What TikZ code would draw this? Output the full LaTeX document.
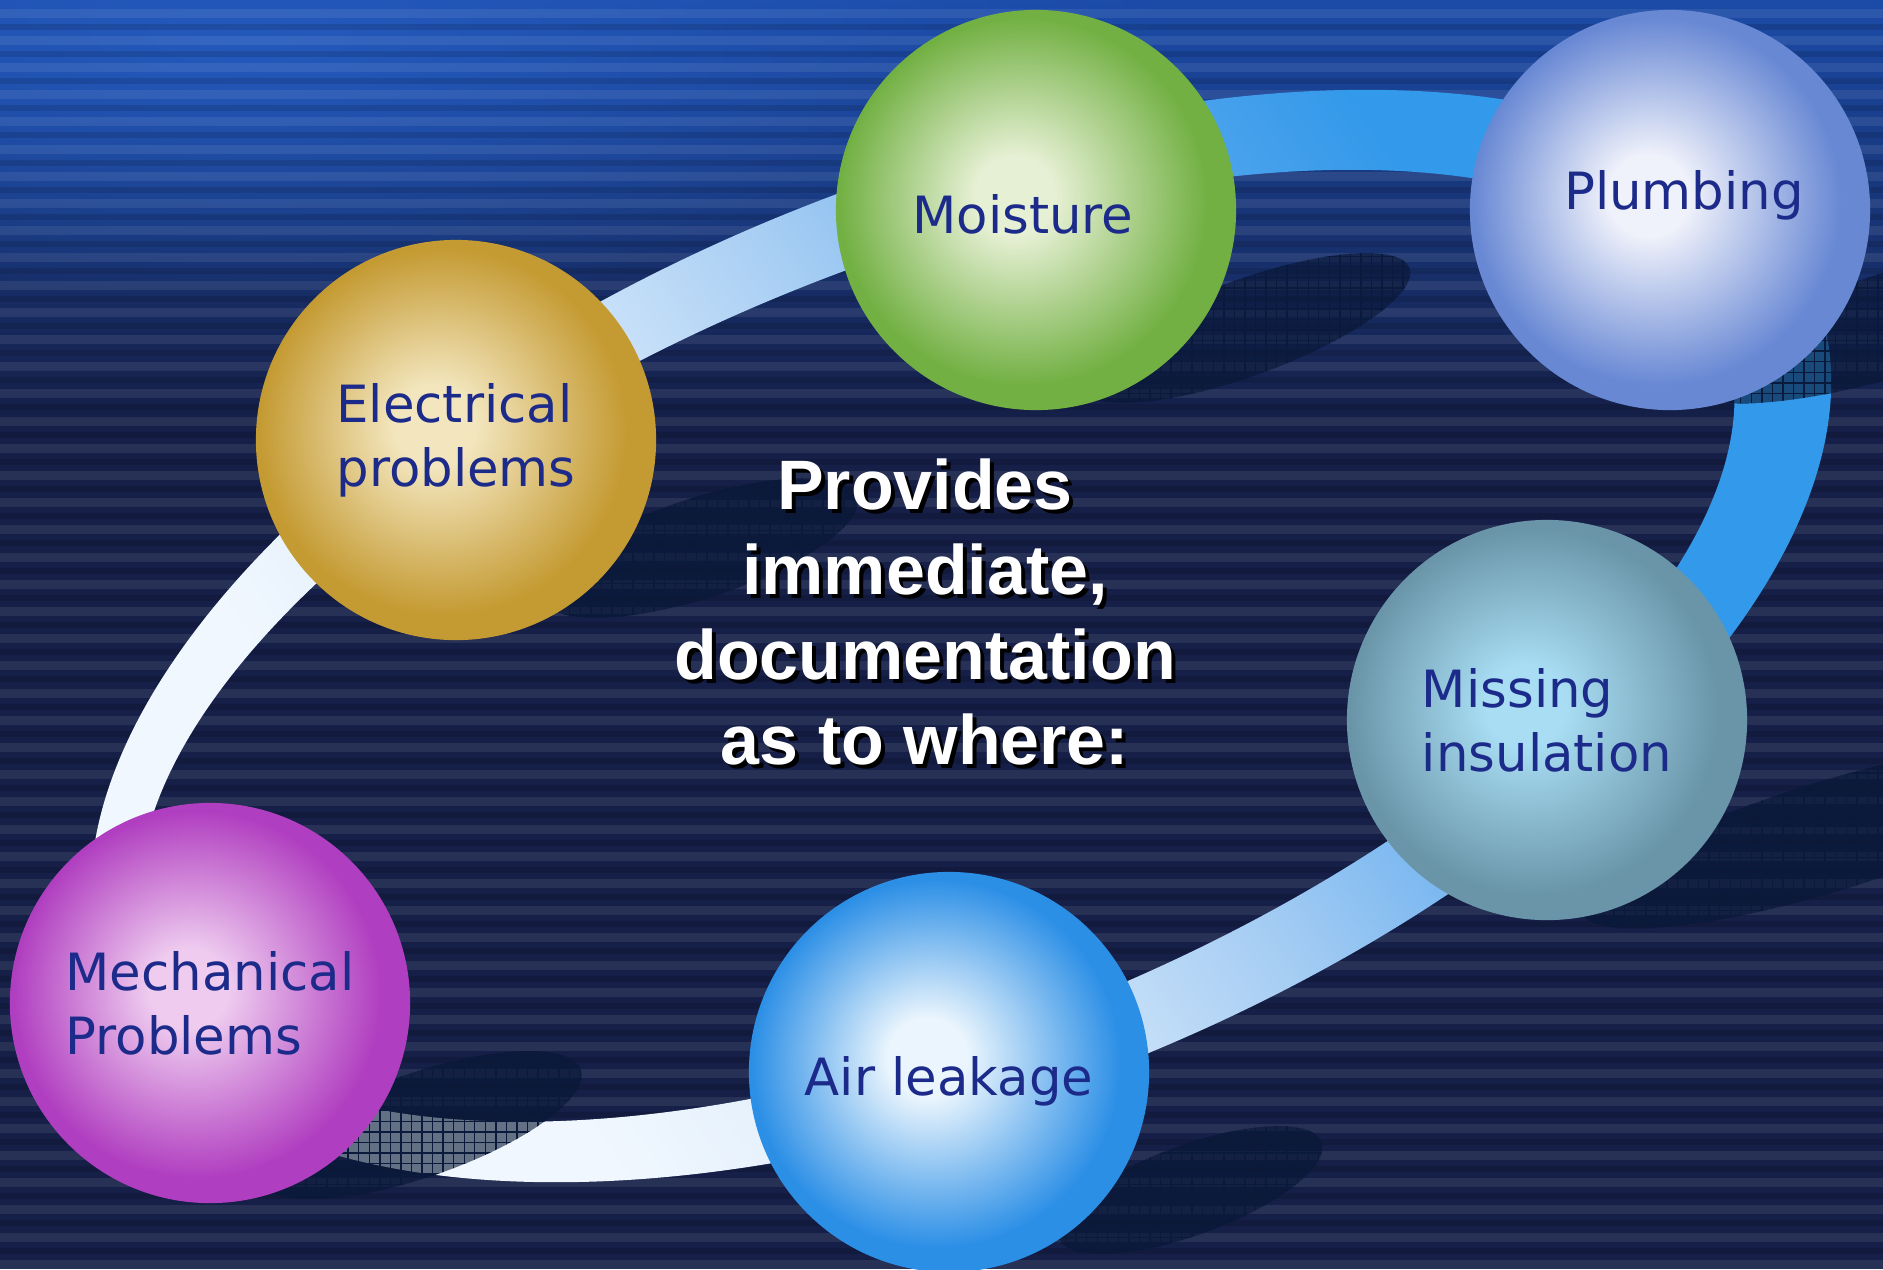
\documentclass[tikz,border=0pt]{standalone}
\usepackage{fontspec}
\setmainfont{DejaVu Sans}
\newfontfamily\headfont{Liberation Sans}
\usetikzlibrary{fadings,patterns}

\definecolor{bgnavy}{HTML}{151F47}
\definecolor{topblue}{HTML}{1B4BA8}
\definecolor{glowblue}{HTML}{2459BC}
\definecolor{labelblue}{HTML}{1C2A8A}
\definecolor{shadowc}{HTML}{081634}
\definecolor{gridc}{HTML}{0A1A3C}
\definecolor{ringA}{HTML}{F0F7FE}
\definecolor{ringB}{HTML}{D4E7FA}
\definecolor{ringC}{HTML}{A4CCF3}
\definecolor{ringD}{HTML}{5CA9EE}
\definecolor{ringE}{HTML}{3399EA}
\definecolor{moistin}{HTML}{E6F0D4}
\definecolor{moistout}{HTML}{72B043}
\definecolor{plumbin}{HTML}{F0F2FB}
\definecolor{plumbout}{HTML}{6888D4}
\definecolor{elecin}{HTML}{F3E6BE}
\definecolor{elecout}{HTML}{C49A32}
\definecolor{insulin}{HTML}{A8DDF3}
\definecolor{insulout}{HTML}{6A95A8}
\definecolor{mechin}{HTML}{EECBEF}
\definecolor{mechout}{HTML}{B03EC0}
\definecolor{airin}{HTML}{EAF5FD}
\definecolor{airout}{HTML}{2C8FE6}

\colorlet{bubin}{white}
\colorlet{bubout}{black}
\pgfdeclareradialshading[bubin,bubout]{bubble}{\pgfpoint{-3bp}{2bp}}{%
  color(0bp)=(bubin); color(5bp)=(bubin); color(23bp)=(bubout); color(50bp)=(bubout)}
\pgfdeclarehorizontalshading{ringfade}{100bp}{%
  color(0bp)=(ringA); color(32bp)=(ringA); color(45bp)=(ringB); color(53bp)=(ringC);
  color(62bp)=(ringD); color(70bp)=(ringE); color(100bp)=(ringE)}
\tikzfading[name=glowfade, inner color=transparent!0, outer color=transparent!100]

\begin{document}
\begin{tikzpicture}[x=0.01cm, y=-0.01cm,
  ball/.style 2 args={circle, minimum size=4cm, inner sep=0pt, align=left,
    text=labelblue, font=\fontsize{14.6}{18.2}\selectfont,
    /utils/exec={\colorlet{bubin}{#1}\colorlet{bubout}{#2}},
    shade, shading=bubble},
  balltext/.style={text=labelblue, font=\fontsize{14.6}{18.2}\selectfont},
  shadowblob/.style={fill=shadowc, fill opacity=0.6},
  shadowgrid/.style={pattern=grid, pattern color=gridc},
  stripe/.style={white, opacity=0.08, line width=0.09cm},
  darkstripe/.style={black, opacity=0.12, line width=0.06cm},
  headline/.style={align=center, font=\headfont\bfseries\fontsize{19.9}{24.1}\selectfont}]

\useasboundingbox (0,0) rectangle (1883,1269);
\clip (0,0) rectangle (1883,1269);

% background
\fill[bgnavy] (0,0) rectangle (1883,1269);
\shade[top color=topblue, bottom color=bgnavy] (0,0) rectangle (1883,420);
\fill[glowblue, path fading=glowfade] (250,40) ellipse [x radius=950, y radius=260];
\foreach \y in {13,40.2,...,1280}
  \draw[stripe] (0,\y) -- (1883,\y);
\foreach \y in {26.6,53.8,...,1280}
  \draw[darkstripe] (0,\y) -- (1883,\y);

% ring
\begin{scope}[shift={(961,636)}, rotate=22]
\shade[shading=ringfade, shading angle=35, even odd rule]
  (0,0) ellipse [x radius=920, y radius=457]
  (-26,0) ellipse [x radius=846, y radius=383];
\end{scope}

% shadows
\foreach \cx/\cy/\ra/\rb/\ang in {420/1125/170/52/19, 700/548/165/50/18,
    1245/328/175/48/20, 1900/322/220/52/17, 1830/836/260/55/17, 1190/1190/140/45/20}
{
  \fill[shadowblob, rotate around={\ang:(\cx,\cy)}] (\cx,\cy) ellipse [x radius=\ra, y radius=\rb];
  \fill[shadowgrid, rotate around={\ang:(\cx,\cy)}] (\cx,\cy) ellipse [x radius=\ra, y radius=\rb];
}

% circles
\node[ball={moistin}{moistout}, label={[balltext, xshift=-0.13cm, yshift=-0.04cm]center:Moisture}] (moist) at (1036,210) {};
\node[ball={plumbin}{plumbout}, label={[balltext, xshift=0.14cm, yshift=0.15cm]center:Plumbing}] (plumb) at (1670,210) {};
\node[ball={elecin}{elecout}] (elec) at (456,440) {Electrical\\problems};
\node[ball={insulin}{insulout}] (insul) at (1547,720) {Missing\\insulation};
\node[ball={mechin}{mechout}] (mech) at (210,1003) {Mechanical\\Problems};
\node[ball={airin}{airout}, label={[balltext, yshift=-0.09cm]center:Air leakage}] (air) at (949,1072) {};

% centre text
\node[headline, text=black] (provshadow) at (929,616)
  {Provides\\immediate,\\documentation\\as to where:};
\node[headline, text=white] (provides) at (925,612)
  {Provides\\immediate,\\documentation\\as to where:};

\end{tikzpicture}
\end{document}
